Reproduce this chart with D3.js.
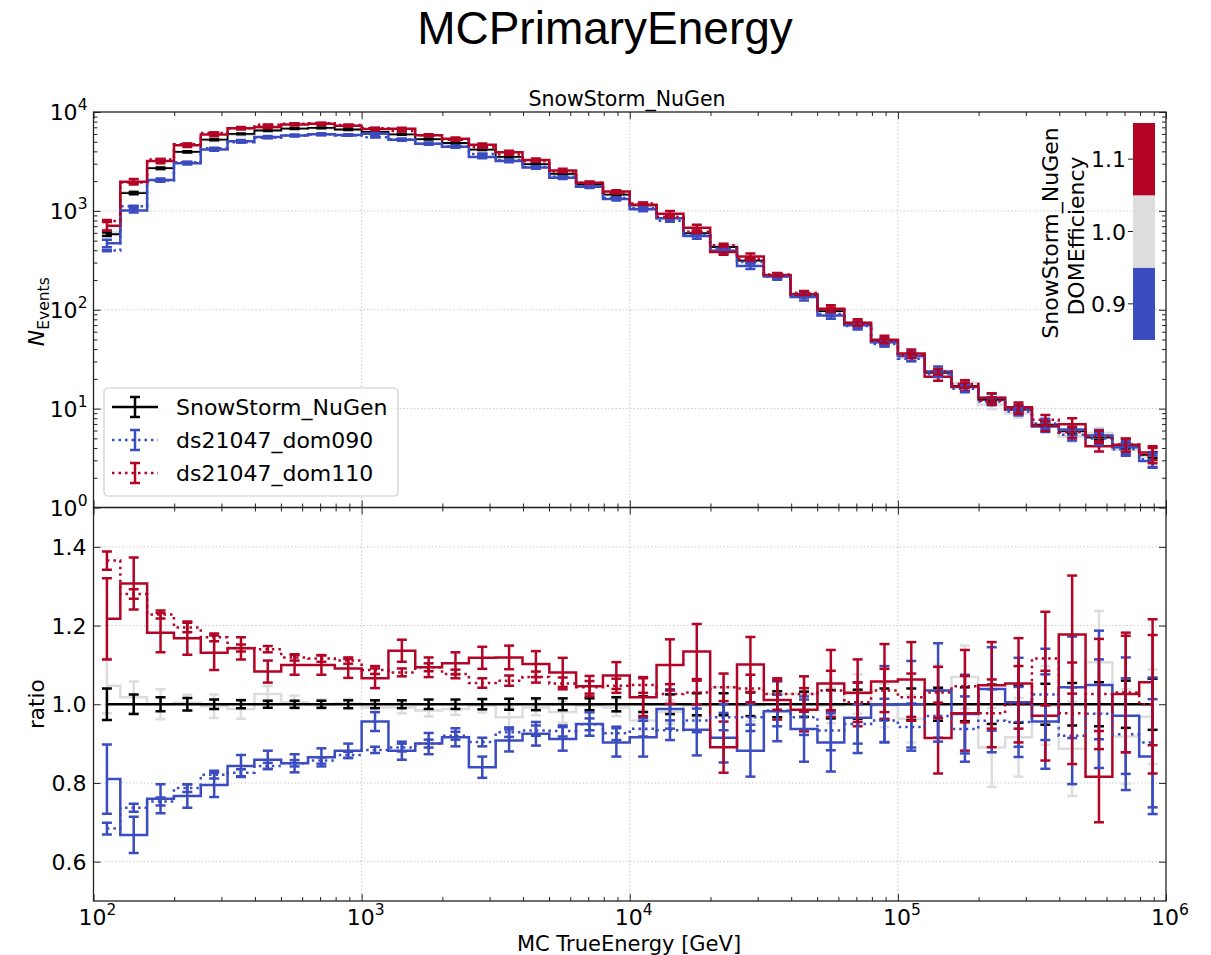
<!DOCTYPE html>
<html><head><meta charset="utf-8">
<script src="https://cdn.jsdelivr.net/npm/d3@7"></script>
<style>body{margin:0;background:#fff;} svg{display:block;} text{font-family:"DejaVu Sans",sans-serif;fill:#000;}</style>
</head><body><svg id="c" width="1211" height="955"></svg>
<script>
// ---------------- data ----------------
const binEdgeExp = [2.0,2.1,2.2,2.3,2.4,2.5,2.6,2.7,2.8,2.9,3.0,3.1,3.2,3.3,3.4,3.5,3.6,3.7,3.8,3.9,4.0,4.1,4.2,4.3,4.4,4.5,4.6,4.7,4.8,4.9,5.0,5.1,5.2,5.3,5.4,5.5,5.6,5.7,5.8,5.9,6.0];
// SnowStorm_NuGen reference counts
const refCounts = [580,1510,2700,3950,5250,6000,6500,6800,6900,6650,6300,5950,5320,4860,4170,3510,2970,2375,1844,1460,1135,850,597,431,314,221,144,97,72,47,34,23,17,12.3,9.8,6.9,5.9,5.1,4.2,3.4];
const refRelErr = [0.04,0.025,0.018,0.016,0.012,0.01,0.009,0.009,0.009,0.01,0.01,0.01,0.012,0.012,0.013,0.014,0.015,0.015,0.015,0.018,0.02,0.025,0.028,0.028,0.03,0.033,0.032,0.036,0.037,0.04,0.04,0.042,0.043,0.05,0.047,0.052,0.054,0.056,0.06,0.065];
// DOMEfficiency subsets of SnowStorm_NuGen (ratio to reference)
const ratio110 = [1.217,1.307,1.182,1.168,1.131,1.142,1.083,1.10,1.10,1.091,1.066,1.136,1.094,1.104,1.118,1.119,1.102,1.081,1.046,1.073,1.018,1.10,1.134,0.891,1.101,1.011,0.986,1.053,1.029,1.058,1.063,0.914,0.977,1.048,1.053,0.971,1.177,0.816,1.026,1.056];
const err110 = [0.103,0.066,0.05,0.042,0.044,0.028,0.028,0.025,0.025,0.024,0.025,0.028,0.025,0.028,0.028,0.03,0.033,0.037,0.026,0.034,0.048,0.065,0.07,0.065,0.07,0.05,0.055,0.085,0.085,0.095,0.095,0.09,0.095,0.11,0.115,0.114,0.15,0.116,0.148,0.16];
const ratio100 = [1.047,1.018,1.0,1.004,0.995,0.988,1.026,1.005,1.0,1.002,0.992,0.992,0.984,0.988,0.997,0.967,0.992,0.98,0.997,0.992,0.959,0.98,0.997,1.043,0.997,1.026,1.026,0.997,1.026,0.997,0.963,1.035,1.069,0.89,0.916,0.997,0.887,1.107,0.918,0.968];
const err100 = [0.07,0.04,0.038,0.02,0.03,0.025,0.02,0.017,0.012,0.012,0.012,0.015,0.015,0.015,0.018,0.025,0.02,0.027,0.02,0.022,0.025,0.03,0.03,0.035,0.04,0.04,0.045,0.045,0.05,0.055,0.06,0.065,0.08,0.1,0.1,0.1,0.12,0.13,0.12,0.12];
const ratio090 = [0.81,0.668,0.76,0.767,0.795,0.843,0.859,0.85,0.865,0.882,0.956,0.882,0.9,0.916,0.84,0.908,0.925,0.912,0.95,0.903,0.916,0.988,0.935,0.915,0.882,0.982,0.937,0.903,0.966,1.0,1.0,1.035,0.975,1.039,1.005,0.956,1.043,1.049,0.971,0.867];
const err090 = [0.088,0.046,0.037,0.03,0.031,0.028,0.023,0.023,0.023,0.018,0.024,0.023,0.027,0.023,0.027,0.028,0.03,0.03,0.03,0.036,0.049,0.05,0.065,0.063,0.066,0.076,0.083,0.074,0.09,0.097,0.11,0.12,0.1,0.106,0.113,0.12,0.129,0.138,0.148,0.146];
// ds21047 datasets (ratio to reference)
const ratioDom110 = [1.365,1.28,1.228,1.195,1.17,1.143,1.14,1.119,1.116,1.111,1.087,1.081,1.094,1.077,1.054,1.06,1.069,1.053,1.043,1.047,1.049,1.026,1.03,1.043,1.04,1.026,1.026,1.035,1.005,1.035,1.018,1.03,1.046,0.977,1.0,1.116,0.977,1.026,1.03,1.0];
const errDom110 = [0.023,0.012,0.01,0.012,0.01,0.009,0.008,0.008,0.008,0.008,0.01,0.01,0.01,0.011,0.012,0.013,0.014,0.015,0.016,0.018,0.02,0.025,0.03,0.035,0.035,0.04,0.045,0.05,0.05,0.055,0.06,0.065,0.092,0.086,0.097,0.119,0.129,0.14,0.152,0.176];
const ratioDom090 = [0.684,0.737,0.753,0.787,0.821,0.826,0.843,0.85,0.857,0.871,0.884,0.89,0.9,0.92,0.904,0.929,0.933,0.932,0.949,0.926,0.938,0.934,0.959,0.967,0.967,0.984,0.967,0.933,0.95,0.959,0.942,0.97,0.937,0.958,0.955,1.025,0.92,0.976,0.924,0.903];
const errDom090 = [0.015,0.01,0.01,0.01,0.01,0.009,0.008,0.008,0.008,0.008,0.008,0.01,0.01,0.01,0.011,0.012,0.013,0.014,0.015,0.017,0.02,0.025,0.03,0.033,0.035,0.04,0.045,0.05,0.05,0.055,0.06,0.065,0.083,0.08,0.089,0.116,0.123,0.138,0.142,0.165];
// colorbar
const cbBounds = [0.85,0.95,1.05,1.15];
const cbColors = ["#3b4cc0","#dddddd","#b40426"];
const cbTicks = [0.9,1.0,1.1];
const xTickExp = [2,3,4,5,6];
const yTopTickExp = [0,1,2,3,4];
const yBotTicks = [0.6,0.8,1.0,1.2,1.4];
const legendItems = [
  {label:"SnowStorm_NuGen", color:"#000000", dash:null},
  {label:"ds21047_dom090", color:"#3b4cc0", dash:"2.5,4"},
  {label:"ds21047_dom110", color:"#b40426", dash:"2.5,4"}
];

// ---------------- layout ----------------
const svg = d3.select("#c");
const L=93.5, R=1166, T0=112, T1=507.5, B1=901;
const x = d3.scaleLog().domain([1e2,1e6]).range([L,R]);
const yT = d3.scaleLog().domain([1,1e4]).range([T1,T0]);
const yB = d3.scaleLinear().domain([0.5,1.5]).range([B1,T1]);
const n = refCounts.length;
const edges = binEdgeExp.map(e=>Math.pow(10,e));
const centers = d3.range(n).map(i=>Math.sqrt(edges[i]*edges[i+1]));
const ones = refCounts.map(()=>1);

const series = [
  {ratio:ratio100, err:err100, color:"#dddddd", dash:null, lwT:3, lwB:2.5},
  {ratio:ones, err:refRelErr, color:"#000000", dash:null, lwT:1.8, lwB:2.5},
  {ratio:ratio090, err:err090, color:"#3b4cc0", dash:null, lwT:2.5, lwB:2.5},
  {ratio:ratio110, err:err110, color:"#b40426", dash:null, lwT:2.5, lwB:2.5},
  {ratio:ratioDom090, err:errDom090, color:"#3b4cc0", dash:"2.5,4", lwT:2.5, lwB:2.5},
  {ratio:ratioDom110, err:errDom110, color:"#b40426", dash:"2.5,4", lwT:2.5, lwB:2.5}
];

const defs = svg.append("defs");
defs.append("clipPath").attr("id","clipT").append("rect").attr("x",L).attr("y",T0).attr("width",R-L).attr("height",T1-T0);
defs.append("clipPath").attr("id","clipB").append("rect").attr("x",L).attr("y",T1).attr("width",R-L).attr("height",B1-T1);

// grids
const gridStyle = g => g.attr("stroke","#b8b8b8").attr("stroke-width",0.9).attr("stroke-dasharray","1.2,2.4");
const grid = svg.append("g");
[[T0,T1],[T1,B1]].forEach(([a,b])=>{
  grid.selectAll(null).data(xTickExp.slice(1,-1)).enter().append("line")
    .attr("x1",d=>x(Math.pow(10,d))).attr("x2",d=>x(Math.pow(10,d))).attr("y1",a).attr("y2",b).call(gridStyle);
});
grid.selectAll(null).data(yTopTickExp.slice(1,-1)).enter().append("line")
  .attr("x1",L).attr("x2",R).attr("y1",d=>yT(Math.pow(10,d))).attr("y2",d=>yT(Math.pow(10,d))).call(gridStyle);
grid.selectAll(null).data(yBotTicks).enter().append("line")
  .attr("x1",L).attr("x2",R).attr("y1",d=>yB(d)).attr("y2",d=>yB(d)).call(gridStyle);

function stepPts(vals, y){
  const pts=[];
  for(let i=0;i<n;i++){
    const x0 = i===0 ? x(centers[0]) : x(edges[i]);
    const x1 = i===n-1 ? x(centers[n-1]) : x(edges[i+1]);
    pts.push([x0,y(vals[i])],[x1,y(vals[i])]);
  }
  return pts;
}
const line = d3.line();

function drawSeries(g, vals, lo, hi, y, s, lw){
  const gg = g.append("g");
  gg.append("path").attr("d",line(stepPts(vals,y))).attr("fill","none")
    .attr("stroke",s.color).attr("stroke-width",lw).attr("stroke-dasharray",s.dash).attr("stroke-linejoin","miter");
  const eb = gg.selectAll(null).data(d3.range(n)).enter().append("g");
  eb.append("line").attr("x1",i=>x(centers[i])).attr("x2",i=>x(centers[i]))
    .attr("y1",i=>y(lo[i])).attr("y2",i=>y(hi[i])).attr("stroke",s.color).attr("stroke-width",2.5);
  [lo,hi].forEach(arr=>{
    eb.append("line").attr("x1",i=>x(centers[i])-5).attr("x2",i=>x(centers[i])+5)
      .attr("y1",i=>y(arr[i])).attr("y2",i=>y(arr[i])).attr("stroke",s.color).attr("stroke-width",2.5);
  });
}

const gTop = svg.append("g").attr("clip-path","url(#clipT)");
const gBot = svg.append("g").attr("clip-path","url(#clipB)");
series.forEach(s=>{
  const vT = refCounts.map((c,i)=>c*s.ratio[i]);
  drawSeries(gTop, vT, vT.map((v,i)=>v*(1-s.err[i])), vT.map((v,i)=>v*(1+s.err[i])), yT, s, s.lwT);
  drawSeries(gBot, s.ratio, s.ratio.map((v,i)=>v-s.err[i]), s.ratio.map((v,i)=>v+s.err[i]), yB, s, s.lwB);
});

// ---------------- axes ----------------
const minorX = [];
for(let e=2;e<6;e++) for(let m=2;m<10;m++) minorX.push(m*Math.pow(10,e));
const minorYT = [];
for(let e=0;e<4;e++) for(let m=2;m<10;m++) minorYT.push(m*Math.pow(10,e));
const majX = xTickExp.map(e=>Math.pow(10,e));
const majYT = yTopTickExp.map(e=>Math.pow(10,e));

function ax(gen, scale, vals, size, tx, ty){
  const g = svg.append("g").attr("transform",`translate(${tx},${ty})`)
    .call(gen(scale).tickValues(vals).tickSize(size).tickFormat(""));
  g.select(".domain").remove();
  g.selectAll(".tick line").attr("stroke","#222").attr("stroke-width",1);
  return g;
}
// x ticks (inward) on both panels, top and bottom spines
[[T0,-1],[T1,1],[T1,-1],[B1,1]].forEach(([yy,dir])=>{
  ax(d3.axisBottom, x, majX, dir>0?-7:7, 0, yy);
  ax(d3.axisBottom, x, minorX, dir>0?-4:4, 0, yy);
});
// y ticks top panel
ax(d3.axisLeft, yT, majYT, -7, L, 0); ax(d3.axisLeft, yT, minorYT, -4, L, 0);
ax(d3.axisRight, yT, majYT, -7, R, 0); ax(d3.axisRight, yT, minorYT, -4, R, 0);
// y ticks bottom panel
ax(d3.axisLeft, yB, yBotTicks, -7, L, 0);
ax(d3.axisRight, yB, yBotTicks, -7, R, 0);

// spines
svg.append("rect").attr("x",L).attr("y",T0).attr("width",R-L).attr("height",T1-T0).attr("fill","none").attr("stroke","#222").attr("stroke-width",1.3);
svg.append("rect").attr("x",L).attr("y",T1).attr("width",R-L).attr("height",B1-T1).attr("fill","none").attr("stroke","#222").attr("stroke-width",1.3);

// tick labels
function powLabel(g, base, exp, xx, yy, anchor){
  const t = g.append("text").attr("x",xx).attr("y",yy).attr("text-anchor",anchor).attr("font-size",22);
  t.append("tspan").text(base);
  t.append("tspan").attr("dy",-10).attr("font-size",15.5).text(exp);
  return t;
}
const lab = svg.append("g");
xTickExp.forEach(e=> powLabel(lab,"10",e,x(Math.pow(10,e))+4,925,"middle"));
yTopTickExp.forEach(e=> powLabel(lab,"10",e,L-6,yT(Math.pow(10,e))+8,"end"));
lab.selectAll(null).data(yBotTicks).enter().append("text")
  .attr("x",L-7).attr("y",d=>yB(d)+8).attr("text-anchor","end").attr("font-size",22)
  .text(d=>d3.format(".1f")(d));

// axis labels
svg.append("text").attr("x",629).attr("y",951).attr("text-anchor","middle").attr("font-size",21).text("MC TrueEnergy [GeV]");
const ny = svg.append("text").attr("transform",`translate(44,${(T0+T1)/2+2}) rotate(-90)`).attr("text-anchor","middle").attr("font-size",22);
ny.append("tspan").attr("font-style","italic").text("N");
ny.append("tspan").attr("dy",5).attr("font-size",15.5).text("Events");
svg.append("text").attr("transform",`translate(44,${(T1+B1)/2}) rotate(-90)`).attr("text-anchor","middle").attr("font-size",21.5).text("ratio");

// titles
svg.append("text").attr("x",605).attr("y",44).attr("text-anchor","middle")
  .style("font-family","'Liberation Sans', Arial, sans-serif").attr("font-size",46).text("MCPrimaryEnergy");
svg.append("text").attr("x",627).attr("y",106).attr("text-anchor","middle").attr("font-size",20.5).text("SnowStorm_NuGen");

// ---------------- colorbar ----------------
const cbY = d3.scaleLinear().domain([0.85,1.15]).range([340,123]);
const cbX0 = 1133, cbW = 22;
const cb = svg.append("g");
cb.selectAll(null).data(cbColors).enter().append("rect")
  .attr("x",cbX0).attr("width",cbW)
  .attr("y",(d,i)=>cbY(cbBounds[i+1])).attr("height",(d,i)=>cbY(cbBounds[i])-cbY(cbBounds[i+1]))
  .attr("fill",d=>d);
cb.selectAll(null).data(cbTicks).enter().append("line")
  .attr("x1",cbX0-5).attr("x2",cbX0).attr("y1",d=>cbY(d)).attr("y2",d=>cbY(d)).attr("stroke","#222").attr("stroke-width",1);
cb.selectAll(null).data(cbTicks).enter().append("text")
  .attr("x",cbX0-7).attr("y",d=>cbY(d)+8).attr("text-anchor","end").attr("font-size",22).text(d=>d3.format(".1f")(d));
cb.append("text").attr("transform","translate(1058,233) rotate(-90)").attr("text-anchor","middle").attr("font-size",22).text("SnowStorm_NuGen");
cb.append("text").attr("transform","translate(1084,236) rotate(-90)").attr("text-anchor","middle").attr("font-size",22).text("DOMEfficiency");

// ---------------- legend ----------------
const lg = svg.append("g");
lg.append("rect").attr("x",104).attr("y",388).attr("width",294).attr("height",108).attr("rx",4)
  .attr("fill","#fff").attr("fill-opacity",0.8).attr("stroke","#cccccc").attr("stroke-width",1.2);
legendItems.forEach((it,i)=>{
  const yy = 407 + i*33;
  lg.append("line").attr("x1",112).attr("x2",158).attr("y1",yy).attr("y2",yy).attr("stroke",it.color).attr("stroke-width",2.5).attr("stroke-dasharray",it.dash);
  lg.append("line").attr("x1",135).attr("x2",135).attr("y1",yy-10).attr("y2",yy+10).attr("stroke",it.color).attr("stroke-width",2.5);
  [yy-10,yy+10].forEach(c=>lg.append("line").attr("x1",130).attr("x2",140).attr("y1",c).attr("y2",c).attr("stroke",it.color).attr("stroke-width",2.5));
  lg.append("text").attr("x",176).attr("y",yy+8).attr("font-size",22).text(it.label);
});
</script></body></html>
